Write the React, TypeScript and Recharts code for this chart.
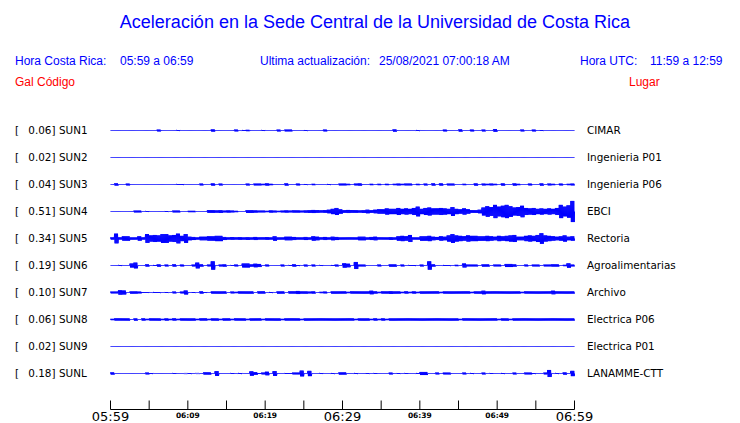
import { LineChart, Line, XAxis, YAxis } from 'recharts';

// station codes, peak acceleration (Gal) and places, top to bottom
const stations = ['SUN1', 'SUN2', 'SUN3', 'SUN4', 'SUN5', 'SUN6', 'SUN7', 'SUN8', 'SUN9', 'SUNL'];
const peaks = ['0.06', '0.02', '0.04', '0.51', '0.34', '0.19', '0.10', '0.06', '0.02', '0.18'];
const places = [
  'CIMAR', 'Ingenieria P01', 'Ingenieria P06', 'EBCI', 'Rectoria',
  'Agroalimentarias', 'Archivo', 'Electrica P06', 'Electrica P01', 'LANAMME-CTT',
];

// minutes after 05:59, one tick every 5 min
const timeTicks = [0, 5, 10, 15, 20, 25, 30, 35, 40, 45, 50, 55, 60];
const tickLabels = ['05:59', '', '06:09', '', '06:19', '', '06:29', '', '06:39', '', '06:49', '', '06:59'];
const bigTicks = ['05:59', '06:29', '06:59'];

// envelope amplitude (Gal) per 30 s bin, 120 bins = 1 hour
const sun1 = [
  0, 0, 0, 0, 0, 0, 0, 0, 0, 0, 0, 0, 0.04, 0, 0, 0, 0, 0.02, 0, 0,
  0, 0, 0, 0, 0, 0, 0.05, 0, 0, 0, 0, 0, 0.04, 0, 0.02, 0.03, 0, 0, 0, 0.02,
  0, 0, 0, 0.04, 0, 0.04, 0.04, 0, 0, 0, 0.02, 0, 0, 0, 0, 0.04, 0, 0, 0, 0,
  0, 0, 0, 0, 0, 0, 0, 0, 0, 0, 0, 0, 0, 0.05, 0, 0, 0, 0, 0, 0.02,
  0, 0, 0, 0, 0, 0, 0.04, 0, 0, 0, 0.05, 0, 0, 0.04, 0, 0, 0.04, 0, 0, 0.06,
  0, 0, 0, 0, 0, 0, 0.04, 0, 0, 0.04, 0, 0.02, 0, 0, 0, 0, 0, 0, 0, 0,
];
const sun2 = [
  0, 0, 0, 0, 0, 0, 0, 0, 0, 0, 0, 0, 0, 0, 0, 0, 0, 0, 0, 0,
  0, 0, 0, 0, 0, 0, 0, 0, 0, 0, 0, 0, 0, 0, 0, 0, 0, 0, 0, 0,
  0, 0, 0, 0, 0, 0, 0, 0, 0, 0, 0, 0, 0, 0, 0, 0, 0, 0, 0, 0,
  0, 0, 0, 0, 0, 0, 0, 0, 0, 0, 0, 0, 0, 0, 0, 0, 0, 0, 0, 0,
  0, 0, 0, 0, 0, 0, 0, 0, 0, 0, 0, 0, 0, 0, 0, 0, 0, 0, 0, 0,
  0, 0, 0, 0, 0, 0, 0, 0, 0, 0, 0, 0, 0, 0, 0, 0, 0, 0, 0, 0,
];
const sun3 = [
  0, 0.05, 0, 0, 0.04, 0, 0, 0, 0, 0, 0, 0, 0, 0, 0, 0, 0, 0.02, 0.02, 0,
  0, 0, 0, 0.04, 0, 0, 0.05, 0, 0.04, 0, 0, 0, 0, 0, 0, 0.04, 0, 0.04, 0.04, 0.03,
  0.05, 0.03, 0, 0, 0, 0.05, 0, 0, 0.04, 0, 0.02, 0, 0.03, 0, 0, 0, 0.02, 0, 0, 0.04,
  0.04, 0.03, 0, 0.04, 0.05, 0, 0, 0.03, 0, 0.03, 0, 0.03, 0, 0.03, 0.04, 0.03, 0.04, 0.04, 0, 0.03,
  0, 0.04, 0, 0.05, 0, 0.05, 0, 0.04, 0.04, 0, 0, 0.03, 0, 0, 0.05, 0, 0.04, 0.03, 0.04, 0.03,
  0, 0.05, 0, 0, 0.05, 0.03, 0, 0, 0.04, 0, 0, 0.05, 0, 0.04, 0.03, 0, 0.04, 0, 0.03, 0.04,
];
const sun4 = [
  0, 0, 0, 0, 0, 0, 0.04, 0.04, 0, 0.02, 0, 0, 0, 0, 0.02, 0, 0.04, 0.04, 0, 0,
  0.03, 0.03, 0, 0, 0, 0.06, 0.06, 0.05, 0.06, 0.04, 0.05, 0.04, 0.03, 0, 0, 0.06, 0.06, 0.05, 0.04, 0.04,
  0.03, 0.05, 0.04, 0.03, 0.04, 0.05, 0.04, 0.05, 0.05, 0.04, 0.05, 0.06, 0.07, 0.06, 0.05, 0.06, 0.08, 0.12, 0.16, 0.10,
  0.06, 0.07, 0.06, 0.06, 0.05, 0.06, 0.08, 0.06, 0.08, 0.10, 0.10, 0.14, 0.12, 0.12, 0.16, 0.12, 0.14, 0.12, 0.16, 0.22,
  0.12, 0.16, 0.18, 0.14, 0.14, 0.16, 0.14, 0.12, 0.20, 0.12, 0.10, 0.14, 0.10, 0.06, 0.06, 0.08, 0.18, 0.24, 0.20, 0.30,
  0.22, 0.26, 0.30, 0.24, 0.18, 0.20, 0.26, 0.16, 0.14, 0.16, 0.12, 0.14, 0.12, 0.14, 0.12, 0.16, 0.30, 0.22, 0.28, 0.48,
];
const sun5 = [
  0.05, 0.22, 0.05, 0.10, 0.10, 0.05, 0.05, 0.10, 0.05, 0.20, 0.14, 0.16, 0.14, 0.20, 0.20, 0.14, 0.16, 0.22, 0.12, 0.20,
  0.08, 0.07, 0.05, 0.08, 0.08, 0.10, 0.10, 0.12, 0.12, 0.07, 0.05, 0.06, 0.05, 0.06, 0.05, 0.06, 0.05, 0.07, 0.05, 0.05,
  0.06, 0.05, 0.10, 0.05, 0.05, 0.08, 0.08, 0.07, 0.05, 0.05, 0.07, 0.05, 0.10, 0.08, 0.05, 0.07, 0.05, 0.08, 0.07, 0.05,
  0.05, 0.05, 0.05, 0.05, 0.08, 0.08, 0.05, 0.07, 0.08, 0.05, 0.05, 0.05, 0.06, 0.05, 0.10, 0.12, 0.10, 0.16, 0.05, 0.05,
  0.10, 0.10, 0.12, 0.08, 0.07, 0.10, 0.08, 0.14, 0.20, 0.14, 0.12, 0.10, 0.14, 0.12, 0.12, 0.10, 0.10, 0.12, 0.10, 0.08,
  0.12, 0.10, 0.12, 0.14, 0.16, 0.08, 0.08, 0.12, 0.14, 0.12, 0.16, 0.24, 0.14, 0.12, 0.10, 0.08, 0.10, 0.14, 0.08, 0.10,
];
const sun6 = [
  0, 0, 0.02, 0, 0, 0.09, 0.13, 0, 0, 0.05, 0, 0.02, 0.05, 0, 0.04, 0, 0.05, 0, 0.04, 0,
  0, 0.04, 0.13, 0.05, 0, 0.04, 0.19, 0, 0.04, 0.05, 0, 0.02, 0.04, 0, 0.09, 0.09, 0.05, 0.08, 0.07, 0,
  0.04, 0, 0, 0, 0.04, 0, 0.02, 0.05, 0.02, 0, 0.04, 0, 0.04, 0, 0.02, 0, 0, 0.02, 0.04, 0,
  0.10, 0.08, 0, 0.16, 0.04, 0.04, 0, 0, 0, 0.04, 0, 0, 0.05, 0.05, 0, 0.04, 0, 0.02, 0.02, 0,
  0.04, 0, 0.19, 0.05, 0, 0, 0.02, 0.02, 0, 0.03, 0, 0.09, 0.04, 0.04, 0.04, 0, 0.05, 0.05, 0, 0.04,
  0.04, 0, 0.07, 0.07, 0.05, 0, 0, 0.04, 0, 0.04, 0.04, 0, 0.04, 0.04, 0.05, 0.05, 0, 0.03, 0.10, 0.04,
];
const sun7 = [
  0.04, 0.04, 0.10, 0.09, 0, 0.05, 0.05, 0.04, 0.02, 0.02, 0, 0.02, 0.02, 0, 0.02, 0, 0.04, 0, 0.04, 0.09,
  0, 0.02, 0, 0.05, 0.02, 0, 0.05, 0.05, 0.05, 0.05, 0, 0.04, 0.03, 0.05, 0.05, 0.05, 0.05, 0, 0.05, 0.05,
  0, 0.02, 0, 0.05, 0.05, 0, 0.05, 0.05, 0.07, 0.05, 0.05, 0.04, 0.05, 0, 0.03, 0.04, 0, 0.05, 0.05, 0.05,
  0.05, 0.03, 0.05, 0.05, 0.05, 0.05, 0.05, 0.08, 0.05, 0.03, 0.05, 0.05, 0.06, 0.05, 0.05, 0.03, 0.05, 0.03, 0.05, 0.03,
  0.05, 0.05, 0.05, 0.05, 0.05, 0.03, 0.05, 0.05, 0.05, 0.05, 0.05, 0.05, 0.05, 0.03, 0.05, 0.05, 0.08, 0.05, 0.05, 0.05,
  0.05, 0.05, 0.05, 0.05, 0.05, 0.05, 0.03, 0.05, 0.05, 0.05, 0.05, 0.05, 0.05, 0.05, 0.08, 0.05, 0.05, 0.05, 0.05, 0.05,
];
const sun8 = [
  0.03, 0.05, 0.05, 0.05, 0.05, 0, 0.05, 0, 0.05, 0.03, 0.05, 0.05, 0.05, 0.03, 0.05, 0.03, 0.05, 0.03, 0.05, 0.05,
  0.05, 0.05, 0.03, 0.05, 0.05, 0.03, 0.05, 0.05, 0.03, 0.05, 0.05, 0.03, 0.05, 0.05, 0.05, 0.03, 0.05, 0.05, 0.05, 0.03,
  0.05, 0.05, 0.05, 0.05, 0.03, 0.05, 0.05, 0.05, 0.05, 0.03, 0.05, 0.05, 0.05, 0.05, 0.05, 0.05, 0.05, 0.05, 0.05, 0.05,
  0.05, 0.05, 0.05, 0.03, 0.05, 0.05, 0.05, 0.03, 0.05, 0.03, 0.05, 0.03, 0.05, 0.05, 0.05, 0.05, 0.05, 0.05, 0.05, 0.05,
  0.05, 0.05, 0.05, 0.05, 0.05, 0.05, 0.05, 0.05, 0.05, 0.05, 0.03, 0.05, 0.05, 0.05, 0.05, 0.05, 0.05, 0.05, 0.05, 0.05,
  0.03, 0.05, 0.05, 0.03, 0.05, 0.05, 0.05, 0.05, 0.05, 0.05, 0.05, 0.05, 0.05, 0.05, 0.05, 0.05, 0.05, 0.05, 0.05, 0.05,
];
const sun9 = [
  0, 0, 0, 0, 0, 0, 0, 0, 0, 0, 0, 0, 0, 0, 0, 0, 0, 0, 0, 0,
  0, 0, 0, 0, 0, 0, 0, 0, 0, 0, 0, 0, 0, 0, 0, 0, 0, 0, 0, 0,
  0, 0, 0, 0, 0, 0, 0, 0, 0, 0, 0, 0, 0, 0, 0, 0, 0, 0, 0, 0,
  0, 0, 0, 0, 0, 0, 0, 0, 0, 0, 0, 0, 0, 0, 0, 0, 0, 0, 0, 0,
  0, 0, 0, 0, 0, 0, 0, 0, 0, 0, 0, 0, 0, 0, 0, 0, 0, 0, 0, 0,
  0, 0, 0, 0, 0, 0, 0, 0, 0, 0, 0, 0, 0, 0, 0, 0, 0, 0, 0, 0,
];
const sunl = [
  0.05, 0, 0, 0, 0, 0, 0, 0, 0, 0.04, 0.02, 0, 0, 0, 0, 0, 0.02, 0, 0, 0.01,
  0.02, 0, 0.01, 0, 0.05, 0.05, 0, 0.11, 0, 0, 0, 0.02, 0, 0.02, 0, 0, 0.10, 0.06, 0.02, 0.04,
  0.08, 0, 0.11, 0, 0, 0.02, 0.02, 0.04, 0.04, 0.13, 0, 0.12, 0, 0, 0.02, 0, 0, 0.02, 0, 0.05,
  0.05, 0, 0, 0.02, 0, 0, 0.02, 0, 0.02, 0, 0, 0, 0.04, 0, 0.02, 0, 0.02, 0, 0, 0.02,
  0.07, 0.07, 0, 0, 0.04, 0, 0.04, 0.04, 0, 0, 0, 0.04, 0, 0.02, 0, 0, 0.04, 0, 0.02, 0,
  0, 0.02, 0, 0, 0.04, 0, 0, 0.04, 0.04, 0.02, 0, 0, 0.04, 0.16, 0, 0.02, 0, 0.05, 0, 0.12,
];

const traces = [sun1, sun2, sun3, sun4, sun5, sun6, sun7, sun8, sun9, sunl];

const W = 740;
const H = 423;
const BLUE = '#0000ff';
const RED = '#ff0000';
const PX_PER_GAL = 22;
const BIN = 0.5; // minutes
const SWINGS = 4; // up/down swings drawn inside one bin
const TOP = 110.5;
const AXIS_Y = 409.5;
const LEFT = 110.5;
const RIGHT = 165.5;
const ROW0 = 130.5;
const ROW_STEP = 27;
const Y_MAX = (AXIS_Y - TOP) / PX_PER_GAL;

// baseline of each trace in axis units
const offsets = stations.map((_, i) => (AXIS_Y - (ROW0 + ROW_STEP * i)) / PX_PER_GAL);

// swing +a / -a inside each bin so the envelope reads as a seismogram
const data: any[] = [];
const edge = (t: number) => {
  const row: any = { t };
  stations.forEach((s, i) => (row[s] = offsets[i]));
  return row;
};
data.push(edge(0));
for (let k = 0; k < 120; k++) {
  for (let j = 0; j < SWINGS; j++) {
    const up: any = { t: (k + (j + 0.25) / SWINGS) * BIN };
    const down: any = { t: (k + (j + 0.75) / SWINGS) * BIN };
    stations.forEach((s, i) => {
      up[s] = offsets[i] + traces[i][k];
      down[s] = offsets[i] - traces[i][k];
    });
    data.push(up, down);
  }
}
data.push(edge(60));

const labelFont = { fontFamily: 'DejaVu Sans', fontSize: 10.4, fill: '#000' };

// station label on the left, place name on the right of each trace
const StationTick = (props: any) => {
  const { y, payload } = props;
  const i = offsets.indexOf(payload.value);
  return (
    <g>
      <text x={15} y={y} dy={3.8} {...labelFont}>[</text>
      <text x={55.5} y={y} dy={3.8} textAnchor="end" {...labelFont}>{peaks[i]}]</text>
      <text x={59} y={y} dy={3.8} {...labelFont}>{stations[i]}</text>
      <text x={587} y={y} dy={3.8} {...labelFont}>{places[i]}</text>
    </g>
  );
};

const TimeTick = (props: any) => {
  const { x, y, payload } = props;
  const label = tickLabels[timeTicks.indexOf(payload.value)];
  const big = bigTicks.includes(label);
  return (
    <g>
      <line x1={x} x2={x} y1={y - 9} y2={y} stroke="#000" strokeWidth={1} />
      {label && (
        <text
          x={x}
          y={y + (big ? 11 : 8.5)}
          textAnchor="middle"
          fontFamily="DejaVu Sans"
          fontSize={big ? 13 : 7.5}
          fontWeight={big ? 'normal' : 'bold'}
          fill="#000"
        >
          {label}
        </text>
      )}
    </g>
  );
};

const headFont = { fontFamily: 'Liberation Sans, Arial, sans-serif', fontSize: 12 };

export default function App() {
  return (
    <div style={{ position: 'absolute', left: 0, top: 0, width: W, height: H, background: '#fff' }}>
      <LineChart
        width={W}
        height={H}
        data={data}
        margin={{ top: TOP, right: RIGHT, bottom: 0, left: 0 }}
      >
        <XAxis
          dataKey="t"
          type="number"
          domain={[0, 60]}
          ticks={timeTicks}
          interval={0}
          height={H - AXIS_Y}
          tickSize={0}
          tickMargin={0}
          tickLine={false}
          axisLine={{ stroke: '#000', strokeWidth: 1 }}
          tick={<TimeTick />}
        />
        <YAxis
          type="number"
          domain={[0, Y_MAX]}
          width={LEFT}
          ticks={offsets}
          interval={0}
          axisLine={false}
          tickLine={false}
          tick={<StationTick />}
        />
        {stations.map((s) => (
          <Line
            key={s}
            dataKey={s}
            type="linear"
            stroke={BLUE}
            strokeWidth={1}
            dot={false}
            activeDot={false}
            isAnimationActive={false}
          />
        ))}
      </LineChart>
      <svg
        width={W}
        height={100}
        style={{ position: 'absolute', left: 0, top: 0, pointerEvents: 'none' }}
      >
        <text
          x={375}
          y={28}
          textAnchor="middle"
          fontFamily="Liberation Sans, Arial, sans-serif"
          fontSize={18}
          fill={BLUE}
        >
          Aceleración en la Sede Central de la Universidad de Costa Rica
        </text>
        <text x={15} y={65} fill={BLUE} {...headFont}>Hora Costa Rica:</text>
        <text x={120} y={65} fill={BLUE} {...headFont}>05:59 a 06:59</text>
        <text x={260} y={65} fill={BLUE} {...headFont}>Ultima actualización:</text>
        <text x={379} y={65} fill={BLUE} {...headFont}>25/08/2021 07:00:18 AM</text>
        <text x={580} y={65} fill={BLUE} {...headFont}>Hora UTC:</text>
        <text x={650} y={65} fill={BLUE} {...headFont}>11:59 a 12:59</text>
        <text x={15} y={86} fill={RED} {...headFont}>Gal</text>
        <text x={37} y={86} fill={RED} {...headFont}>Código</text>
        <text x={629} y={86} fill={RED} {...headFont}>Lugar</text>
      </svg>
    </div>
  );
}
